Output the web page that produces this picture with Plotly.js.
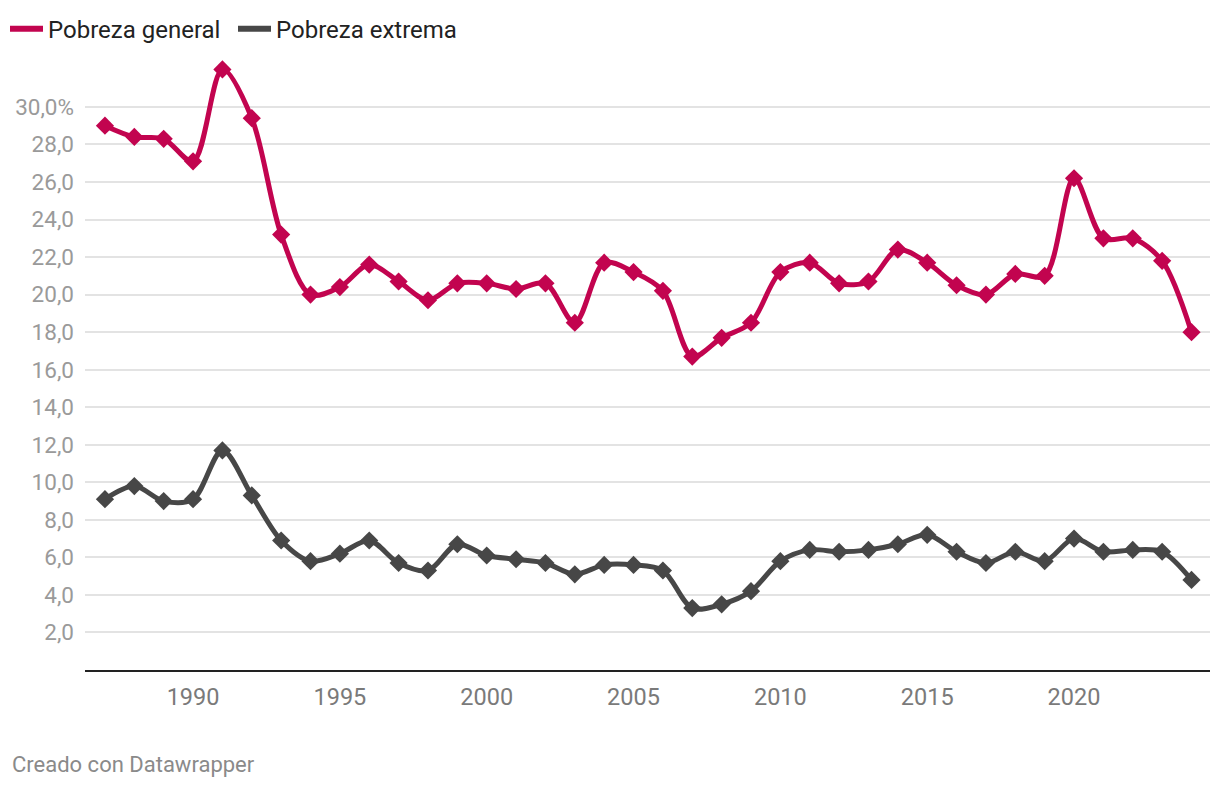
<!DOCTYPE html>
<html>
<head>
<meta charset="utf-8">
<script src="https://cdn.plot.ly/plotly-3.0.1.min.js"></script>
<style>
html,body{margin:0;padding:0;background:#fff;}
#chart{width:1220px;height:786px;}
</style>
</head>
<body>
<div id="chart"></div>
<script>
const years = [1987,1988,1989,1990,1991,1992,1993,1994,1995,1996,1997,1998,1999,2000,2001,2002,2003,2004,2005,2006,2007,2008,2009,2010,2011,2012,2013,2014,2015,2016,2017,2018,2019,2020,2021,2022,2023,2024];
const pobrezaGeneral = [29.0,28.4,28.3,27.1,32.0,29.4,23.2,20.0,20.4,21.6,20.7,19.7,20.6,20.6,20.3,20.6,18.5,21.7,21.2,20.2,16.7,17.7,18.5,21.2,21.7,20.6,20.7,22.4,21.7,20.5,20.0,21.1,21.0,26.2,23.0,23.0,21.8,18.0];
const pobrezaExtrema = [9.1,9.8,9.0,9.1,11.7,9.3,6.9,5.8,6.2,6.9,5.7,5.3,6.7,6.1,5.9,5.7,5.1,5.6,5.6,5.3,3.3,3.5,4.2,5.8,6.4,6.3,6.4,6.7,7.2,6.3,5.7,6.3,5.8,7.0,6.3,6.4,6.3,4.8];
const yTickVals = [2,4,6,8,10,12,14,16,18,20,22,24,26,28,30];
const yTickText = ["2,0","4,0","6,0","8,0","10,0","12,0","14,0","16,0","18,0","20,0","22,0","24,0","26,0","28,0","30,0%"];
const xTickVals = [1990,1995,2000,2005,2010,2015,2020];
const seriesNames = ["Pobreza general","Pobreza extrema"];
const colors = ['#c2044f','#474747'];

const traces = [
  {x: years, y: pobrezaGeneral, name: seriesNames[0], type:'scatter', mode:'lines+markers', showlegend:false,
   line:{color:colors[0], width:5, shape:'spline', smoothing:0.9},
   marker:{symbol:'diamond', size:14, color:colors[0]}},
  {x: years, y: pobrezaExtrema, name: seriesNames[1], type:'scatter', mode:'lines+markers', showlegend:false,
   line:{color:colors[1], width:5, shape:'spline', smoothing:0.9},
   marker:{symbol:'diamond', size:14, color:colors[1]}},
  {x:[null], y:[null], name: seriesNames[0], type:'scatter', mode:'lines', showlegend:true,
   line:{color:colors[0], width:6}},
  {x:[null], y:[null], name: seriesNames[1], type:'scatter', mode:'lines', showlegend:true,
   line:{color:colors[1], width:6}}
];

const layout = {
  width:1220, height:786,
  margin:{l:6, r:10, t:60, b:116.4, autoexpand:false},
  paper_bgcolor:'#fff', plot_bgcolor:'#fff',
  font:{family:'Roboto, sans-serif', color:'#333'},
  showlegend:true,
  legend:{orientation:'h', xref:'container', yref:'container', x:0.0041, xanchor:'left',
          y:0.963, yanchor:'middle', entrywidth:180,
          font:{size:24, color:'#222'}, itemwidth:33, traceorder:'normal',
          tracegroupgap:0, bgcolor:'rgba(0,0,0,0)'},
  xaxis:{domain:[0.0656,1], range:[1986.32, 2024.63], tickvals:xTickVals, ticks:'', showgrid:false,
         zeroline:false, showline:true, linecolor:'#222', linewidth:2, automargin:false,
         tickfont:{size:23.5, color:'#7a7a7a'}, ticklabelstandoff:5, fixedrange:true},
  yaxis:{range:[0,32.5], tickvals:yTickVals, ticktext:yTickText, ticks:'', automargin:false,
         showgrid:true, gridcolor:'#e3e3e3', gridwidth:2, zeroline:false, showline:false,
         tickfont:{size:22.5, color:'#9a9a9a'}, ticklabelstandoff:10, fixedrange:true},
  annotations:[{text:'Creado con Datawrapper', xref:'paper', yref:'paper', x:0.0033, y:-0.155,
                xanchor:'left', yanchor:'middle', showarrow:false,
                font:{size:22, color:'#8a8a8a', family:'Roboto, sans-serif'}}]
};
Plotly.newPlot('chart', traces, layout, {displayModeBar:false, staticPlot:true});
</script>
</body>
</html>
